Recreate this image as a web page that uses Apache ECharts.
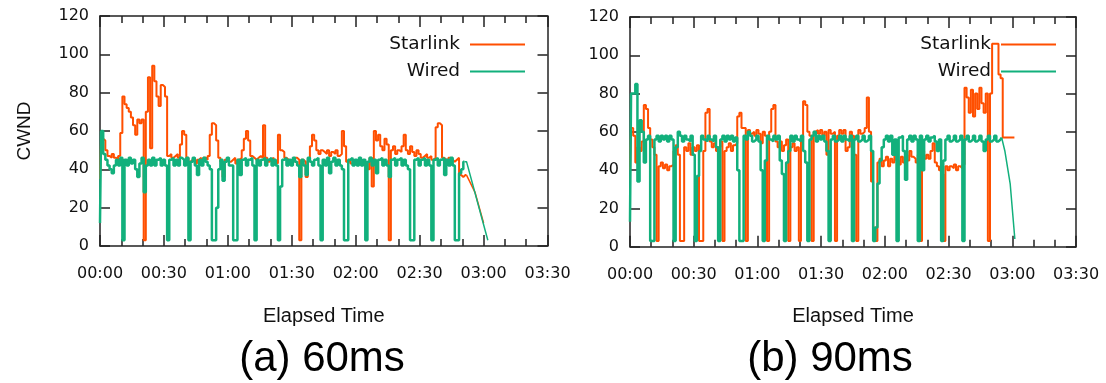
<!DOCTYPE html>
<html>
<head>
<meta charset="utf-8">
<script src="https://cdn.jsdelivr.net/npm/echarts@6/dist/echarts.min.js"></script>
<style>
  html, body { margin: 0; padding: 0; background: #fff; }
  #chart { width: 1106px; height: 383px; }
</style>
</head>
<body>
<div id="chart"></div>
<script>
// CWND samples, one per second of elapsed time
var starlink60 = [
  35, 56, 55, 50, 47, 46, 48, 46, 45, 47,
  59, 78, 74, 72, 70, 67, 63, 58, 66, 64,
  66, 3, 70, 88, 51, 94, 86, 78, 73, 84,
  83, 78, 47, 48, 46, 47, 48, 46, 53, 60,
  58, 46, 44, 45, 46, 43, 45, 46, 44, 46,
  45, 47, 58, 64, 63, 55, 46, 44, 36, 45,
  46, 44, 45, 46, 43, 45, 46, 50, 56, 60,
  55, 47, 46, 45, 46, 47, 46, 63, 46, 44,
  45, 46, 44, 43, 58, 50, 49, 46, 45, 44,
  45, 44, 46, 45, 3, 45, 44, 36, 45, 52,
  58, 55, 50, 48, 50, 49, 48, 50, 47, 49,
  48, 50, 47, 48, 60, 52, 44, 45, 43, 44,
  45, 43, 44, 45, 43, 44, 40, 46, 31, 60,
  55, 58, 52, 50, 56, 53, 3, 50, 52, 48,
  50, 49, 52, 58, 50, 48, 52, 49, 47, 50,
  48, 46, 47, 48, 46, 47, 45, 46, 62, 64,
  63, 46, 45, 44, 46, 45, 44, 45, 46, 37,
  36, 37, 37
];
var starlinkTail60 = [[172, 37], [176, 28], [180, 12]];

var wired60 = [
  12, 60, 48, 45, 42, 40, 38, 42, 45, 42,
  46, 3, 45, 42, 46, 43, 45, 40, 36, 43,
  46, 28, 42, 45, 42, 46, 42, 45, 46, 42,
  45, 42, 3, 45, 46, 42, 45, 42, 46, 45,
  42, 46, 3, 44, 46, 42, 37, 45, 42, 46,
  44, 42, 40, 3, 3, 20, 40, 45, 34, 44,
  46, 42, 42, 3, 3, 45, 37, 45, 46, 42,
  45, 46, 42, 3, 45, 42, 45, 46, 42, 45,
  46, 42, 45, 42, 3, 31, 45, 46, 42, 45,
  42, 46, 44, 42, 36, 45, 42, 37, 46, 44,
  42, 45, 46, 42, 3, 45, 42, 46, 38, 44,
  46, 42, 45, 42, 40, 3, 3, 45, 46, 42,
  45, 42, 46, 42, 45, 3, 44, 46, 42, 45,
  38, 45, 46, 42, 45, 42, 36, 45, 46, 42,
  45, 46, 42, 45, 42, 40, 3, 3, 45, 46,
  42, 45, 46, 42, 45, 42, 3, 45, 46, 42,
  45, 46, 37, 45, 42, 46, 42, 3, 3, 38,
  40, 44
];
var wiredTail60 = [[171, 44], [172, 44], [182, 3]];

var starlink90 = [
  40, 62, 58, 44, 52, 50, 55, 74, 72, 62,
  56, 52, 48, 3, 42, 44, 41, 43, 40, 42,
  43, 50, 53, 48, 3, 3, 52, 50, 54, 48,
  52, 50, 53, 3, 3, 50, 70, 72, 55, 52,
  54, 50, 52, 55, 3, 50, 52, 54, 50, 53,
  54, 68, 70, 62, 62, 3, 61, 59, 60, 58,
  61, 59, 54, 60, 58, 3, 60, 72, 74, 55,
  52, 55, 50, 53, 56, 3, 52, 54, 50, 52,
  3, 55, 76, 74, 60, 58, 3, 60, 61, 59,
  61, 58, 60, 48, 61, 59, 60, 3, 58, 61,
  59, 61, 50, 52, 60, 58, 48, 3, 61, 59,
  60, 62, 78, 60, 34, 10, 3, 44, 46, 42,
  45, 47, 42, 46, 44, 48, 45, 43, 47, 44,
  48, 45, 50, 47, 46, 44, 48, 3, 50, 46,
  48, 46, 50, 54, 44, 42, 40, 38, 3, 42,
  40, 42, 41, 43, 40, 42, 41, 43, 83, 78,
  70, 82, 68, 80, 72, 83, 75, 70, 80, 3,
  80, 106, 106, 106, 90, 88, 57, 57, 57, 57,
  57, 57
];

var wired90 = [
  13, 80, 80, 85, 34, 66, 60, 44, 56, 58,
  3, 3, 56, 58, 55, 58, 56, 58, 55, 58,
  56, 3, 52, 60, 58, 55, 58, 56, 55, 58,
  48, 3, 37, 50, 58, 56, 55, 58, 56, 55,
  58, 52, 3, 56, 58, 55, 58, 56, 58, 55,
  57, 40, 3, 3, 58, 56, 60, 58, 55, 56,
  58, 55, 40, 3, 45, 58, 56, 55, 58, 56,
  58, 45, 38, 3, 44, 50, 58, 55, 58, 56,
  55, 58, 50, 44, 3, 56, 58, 60, 55, 58,
  56, 58, 55, 50, 3, 56, 58, 55, 56, 58,
  55, 58, 56, 55, 58, 3, 56, 58, 55, 56,
  58, 55, 56, 58, 50, 3, 10, 33, 45, 52,
  56, 58, 55, 58, 48, 56, 3, 57, 58, 50,
  35, 56, 58, 55, 58, 56, 3, 58, 40, 56,
  58, 55, 57, 58, 55, 50, 56, 3, 45, 56,
  58, 55, 56, 58, 55, 56, 58, 3, 56, 58,
  55, 56, 58, 55, 56, 58, 55, 50, 56, 58,
  55, 56, 58, 55, 56, 57
];
var wiredTail90 = [[175, 57], [176.5, 50], [179, 33], [181.2, 4]];

var timeTicks = [0, 210, 30];   // min, max, step (seconds)
var cwndTicks = [0, 120, 20];
var panelTitles = ['(a) 60ms', '(b) 90ms'];

var ORANGE = '#ff4f00';
var GREEN = '#12b07c';
var INK = '#111';

function pad(n) { return (n < 10 ? '0' : '') + n; }
function mmss(v) { return pad(Math.floor(v / 60)) + ':' + pad(v % 60); }
function perSecond(arr) { return arr.map(function (v, i) { return [i, v]; }); }

var lineAxis = { show: true, onZero: false, lineStyle: { color: '#222', width: 1.5 } };
var tickStyle = { color: '#222', width: 1.5 };

function xAxisFor(g, pos) {
  var bottom = pos === 'bottom';
  return {
    type: 'value', gridIndex: g, position: pos,
    min: timeTicks[0], max: timeTicks[1], interval: timeTicks[2],
    axisLine: lineAxis,
    axisTick: { show: true, inside: true, length: 11, lineStyle: tickStyle },
    minorTick: { show: true, splitNumber: 3, length: 7, lineStyle: tickStyle },
    splitLine: { show: false },
    axisLabel: {
      show: bottom, margin: 20, formatter: mmss,
      fontFamily: 'DejaVu Sans', fontSize: 16, color: INK
    },
    name: bottom ? 'Elapsed Time' : '',
    nameLocation: 'middle', nameGap: 60,
    nameTextStyle: { fontFamily: 'Liberation Sans', fontSize: 20, color: INK }
  };
}

function yAxisFor(g, pos, name) {
  var left = pos === 'left';
  return {
    type: 'value', gridIndex: g, position: pos,
    min: cwndTicks[0], max: cwndTicks[1], interval: cwndTicks[2],
    axisLine: lineAxis,
    axisTick: { show: true, inside: true, length: 10, lineStyle: tickStyle },
    splitLine: { show: false },
    axisLabel: {
      show: left, margin: 11,
      fontFamily: 'DejaVu Sans', fontSize: 16, color: INK
    },
    name: left ? name : '',
    nameLocation: 'middle', nameRotate: 90, nameGap: 66,
    nameTextStyle: { fontFamily: 'Liberation Sans', fontSize: 19, color: INK }
  };
}

function legendFor(right) {
  return {
    data: ['Starlink', 'Wired'], orient: 'vertical', align: 'right',
    right: right, top: 30, icon: 'rect', itemWidth: 55, itemHeight: 2, itemGap: 8,
    selectedMode: false,
    textStyle: { fontFamily: 'DejaVu Sans', fontSize: 18.5, color: INK, padding: [0, 5, 0, 0] }
  };
}

function line(name, data, xi, yi, color, width, step) {
  return {
    name: name, type: 'line', xAxisIndex: xi, yAxisIndex: yi,
    data: data, step: step ? 'middle' : false,
    showSymbol: false, symbol: 'none', color: color,
    lineStyle: { color: color, width: width }, silent: true
  };
}

var chart = echarts.init(document.getElementById('chart'));
var option = {
  animation: false,
  grid: [
    { left: 100, top: 16, width: 447.5, height: 230 },
    { left: 630, top: 17, width: 446, height: 229.7 }
  ],
  title: [
    { text: panelTitles[0], left: 322, top: 338, textAlign: 'center', padding: 0,
      textStyle: { fontFamily: 'Liberation Sans', fontSize: 42, fontWeight: 'normal', color: '#000' } },
    { text: panelTitles[1], left: 830, top: 338, textAlign: 'center', padding: 0,
      textStyle: { fontFamily: 'Liberation Sans', fontSize: 42, fontWeight: 'normal', color: '#000' } }
  ],
  legend: [legendFor(576), legendFor(45)],
  xAxis: [xAxisFor(0, 'bottom'), xAxisFor(0, 'top'), xAxisFor(1, 'bottom'), xAxisFor(1, 'top')],
  yAxis: [yAxisFor(0, 'left', 'CWND'), yAxisFor(0, 'right'), yAxisFor(1, 'left', ''), yAxisFor(1, 'right')],
  series: [
    line('Starlink', perSecond(starlink60), 0, 0, ORANGE, 2, true),
    line('Starlink', starlinkTail60, 0, 0, ORANGE, 1.5, false),
    line('Wired', perSecond(wired60), 0, 0, GREEN, 2.5, true),
    line('Wired', wiredTail60, 0, 0, GREEN, 1.5, false),
    line('Starlink', perSecond(starlink90), 2, 2, ORANGE, 2, true),
    line('Wired', perSecond(wired90), 2, 2, GREEN, 2.5, true),
    line('Wired', wiredTail90, 2, 2, GREEN, 1.5, false)
  ]
};
chart.setOption(option);
</script>
</body>
</html>
